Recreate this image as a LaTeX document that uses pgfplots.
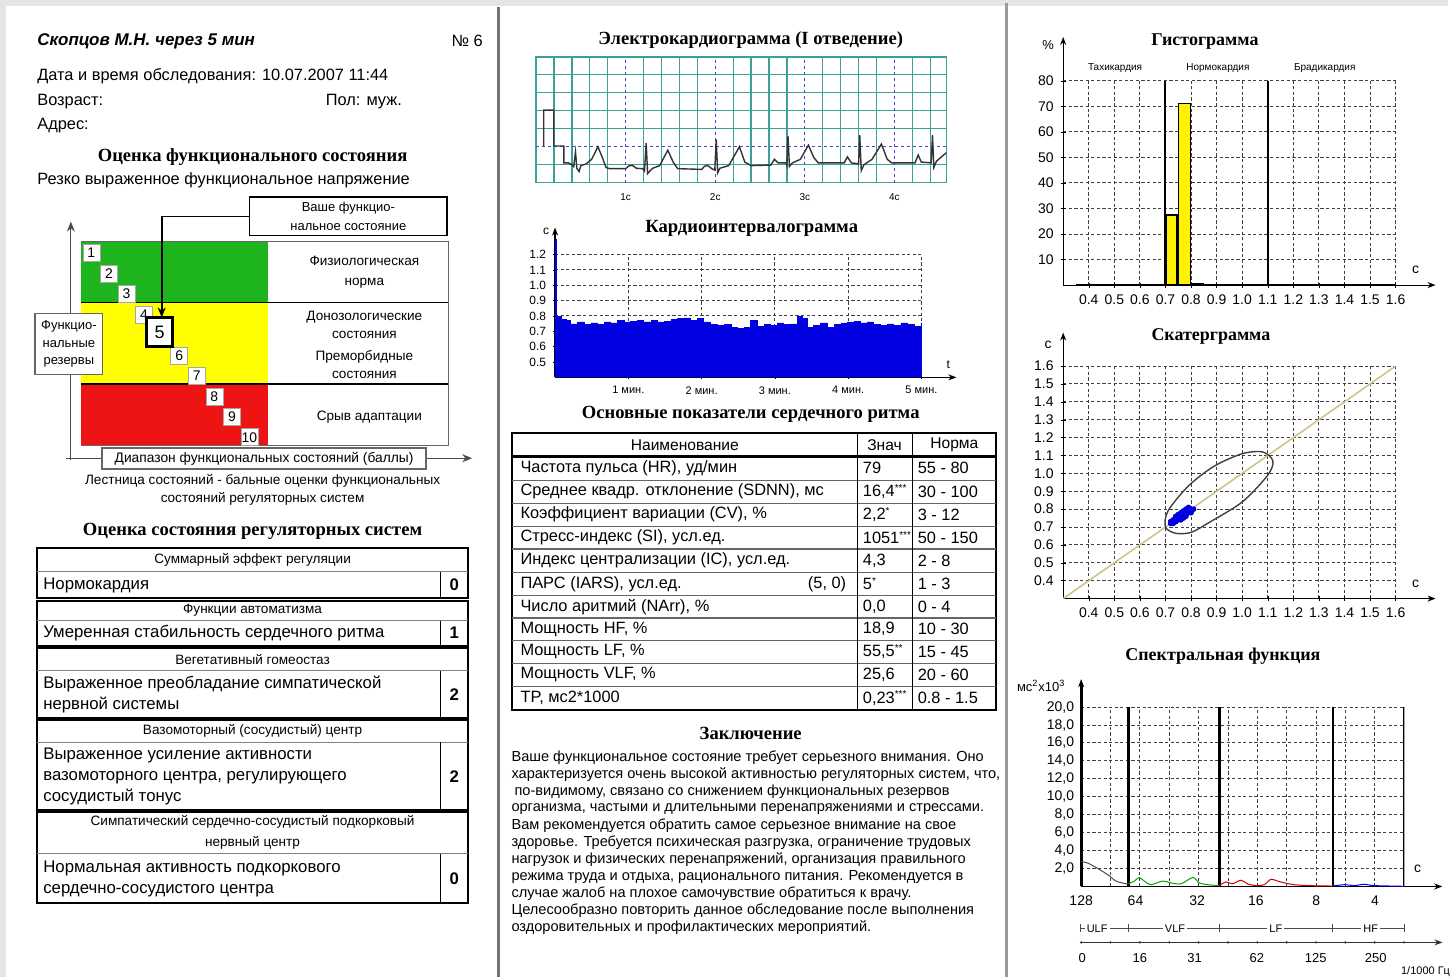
\documentclass[border=0pt]{standalone}
\usepackage{fontspec}
\setmainfont{Liberation Sans}
\newfontfamily\hdfont{Liberation Serif}
\usepackage{pgfplots}
\pgfplotsset{compat=1.18}
\usetikzlibrary{arrows.meta}
\definecolor{ecggrid}{RGB}{60,160,150}
\definecolor{ecgdash}{RGB}{70,70,210}
\definecolor{lgreen}{RGB}{30,180,30}
\definecolor{lyellow}{RGB}{255,255,0}
\definecolor{lred}{RGB}{238,20,20}
\definecolor{khaki}{RGB}{210,195,140}
\definecolor{cblue}{RGB}{0,0,225}
\newcommand{\fs}[2]{\fontsize{#1}{#2}\selectfont}
\newcommand{\hd}{\hdfont\bfseries\fs{9.3}{11}}
\newcommand{\hdr}{\hdfont\bfseries\fs{9.0}{11}}
\newcommand{\st}[1]{\raisebox{2.6pt}{\fs{5}{5}#1}}
\newcommand{\trow}[4]{%
  \node[anchor=west,font=\fs{8.2}{9}] at (521,#1) {#2};
  \node[anchor=west,font=\fs{8.2}{9}] at (864,#1) {#3};
  \node[anchor=west,font=\fs{8.2}{9}] at (919,#1) {#4};}
\pgfplotsset{
  every axis/.append style={scale only axis, anchor=south west, /pgf/number format/assume math mode=true},
  dgrid/.style={grid=major, major grid style={black!75, dash pattern=on 1.6pt off 1.2pt, line width=0.5pt}},
  onedec/.style={/pgf/number format/fixed, /pgf/number format/fixed zerofill, /pgf/number format/precision=1},
  arrowaxes/.style 2 args={axis x line=bottom, axis y line=left,
     x axis line style={-{Stealth[length=4pt,width=3pt]}, shorten >=-#1, line width=0.6pt},
     y axis line style={-{Stealth[length=4pt,width=3pt]}, shorten >=-#2, line width=0.6pt}},
}
\begin{document}
\begin{tikzpicture}
\begin{scope}[x=0.5pt,y=-0.5pt]
\useasboundingbox (0,0) rectangle (1450,979);
\fill[white] (0,0) rectangle (1450,979);
\fill[black!10] (0,0) rectangle (1450,6);
\fill[black!10] (0,0) rectangle (6,979);
\fill[black!55] (498,7) rectangle (500.5,979);
\fill[black!40] (1007,3) rectangle (1009.5,979);
% ---- ladder ----
\fill[lgreen] (81,242) rectangle (268,303);
\fill[lyellow] (81,303) rectangle (268,385);
\fill[lred] (81,385) rectangle (268,446);
\draw[black!60, line width=0.5pt] (81,242) -- (449,242) -- (449,446) -- (81,446);
\draw[line width=0.9pt] (81,303) -- (449,303) (81,385) -- (449,385);
\draw[black!70, line width=0.6pt,-{Stealth[length=5pt,width=4pt]}] (71,461) -- (71,222);
\draw[black!70, line width=0.6pt,-{Stealth[length=5pt,width=4pt]}] (66,459) -- (473,459);
\foreach \i in {1,2,3,4,6,7,8,9,10} {
  \pgfmathsetmacro{\bx}{83+(\i-1)*17.6}
  \pgfmathsetmacro{\by}{245+(\i-1)*20.5}
  \draw[fill=white, draw=black!35, line width=0.3pt] (\bx,\by) rectangle ++(17,17);
  \node[font=\fs{7}{8}] at (\bx+8.5,\by+8.5) {\i};
}
\draw[fill=white, line width=1.3pt] (147,318) rectangle (173,347);
\node[font=\fs{9}{10}] at (160,332.5) {5};
\draw[line width=0.9pt, fill=white] (250,197) rectangle (448,236);
\draw[line width=0.8pt,-{Stealth[length=5pt,width=4pt]}] (250,217) -- (162,217) -- (162,318);
\draw[fill=white, draw=black!60, line width=0.6pt] (35,314) rectangle (103,375);
\draw[fill=white, draw=black!60, line width=0.8pt] (102,449) rectangle (427,470);
% ---- left table ----
\draw[line width=1pt] (37,549.3) rectangle (469,599.3);
\draw[black!50] (37,572.7) -- (469,572.7); \draw (441,572.7) -- (441,599.3);
\draw[line width=1pt] (37,601.7) rectangle (469,646.7);
\draw[black!50] (37,621.7) -- (469,621.7); \draw (441,621.7) -- (441,646.7);
\draw[line width=1pt] (37,649.3) rectangle (469,719.3);
\draw[black!50] (37,671.7) -- (469,671.7); \draw (441,671.7) -- (441,719.3);
\draw[line width=1pt] (37,721) rectangle (469,811.7);
\draw[black!50] (37,743.3) -- (469,743.3); \draw (441,743.3) -- (441,811.7);
\draw[line width=1pt] (37,813.3) rectangle (469,905);
\draw[black!50] (37,855) -- (469,855); \draw (441,855) -- (441,905);
% ---- main table ----
\draw[line width=1pt] (513,434) rectangle (998,711);
\draw[line width=1.6pt] (513,457) -- (998,457);
\foreach \y in {481,504,527,550,573.3,596.3,619,641.7,664.3,687.7}
  \draw[black!60, line width=0.6pt] (513,\y) -- (998,\y);
\draw[line width=0.6pt] (859,434) -- (859,711) (914,434) -- (914,711);
% ---- spectral bottom scales ----
\draw[black!70, line width=0.6pt] (1082,930) -- (1406.7,930);
\foreach \x in {1082,1130.7,1221.7,1335,1406.7} \draw[black!70, line width=0.6pt] (\x,926) -- (\x,934);
\draw[-{Stealth[length=4pt,width=3pt]}, black!80, line width=0.6pt] (1082,944) -- (1445,944);
\foreach \k in {0,...,11} \fill[black!80] ({1083+29.4*\k},944) circle (1.3);
\end{scope}

% ===== ECG =====
\begin{axis}[at={(268.5pt,-91.5pt)}, width=205.5pt, height=63pt,
  xmin=0, xmax=4.58, ymin=0, ymax=7,
  xtick={0.2,0.4,0.6,0.8,1.2,1.4,1.6,1.8,2.2,2.4,2.6,2.8,3.2,3.4,3.6,3.8,4.2,4.4},
  ytick={1,3,4,5,6}, xticklabels={}, yticklabels={},
  major tick length=0pt, grid=major, major grid style={ecggrid, line width=0.6pt},
  axis line style={ecggrid, line width=0.7pt},
  extra x ticks={1,2,3,4}, extra x tick labels={1с,2с,3с,4с},
  extra x tick style={grid=major, major grid style={ecgdash, dash pattern=on 1.5pt off 1.5pt, line width=0.6pt},
     tick label style={font=\fs{5}{6}, yshift=-2pt}},
  extra y ticks={2}, extra y tick labels={},
  extra y tick style={grid=major, major grid style={ecgdash, dash pattern=on 1.5pt off 1.5pt, line width=0.6pt}},
]
\addplot[black!80, line width=0.7pt] coordinates {
(0.086,2.04)(0.086,4.04)(0.197,4.04)(0.197,2.04)(0.31,2.04)(0.31,1.1)
(0.36,1.1)(0.40,1.0)(0.42,0.9)(0.44,1.72)(0.455,0.8)(0.48,0.62)(0.5,0.95)(0.56,1.05)(0.62,1.3)(0.69,2.0)(0.74,1.4)(0.78,0.85)(0.82,0.78)
(1.0,0.78)(1.04,0.95)(1.08,0.95)(1.12,0.8)(1.19,0.78)(1.21,0.65)(1.229,2.2)(1.245,0.5)(1.265,0.62)(1.3,0.8)(1.38,0.95)(1.47,1.81)(1.53,1.15)(1.58,0.78)
(1.85,0.74)(1.88,0.92)(1.92,0.95)(1.96,0.78)(1.995,0.7)(2.011,2.41)(2.027,0.55)(2.05,0.8)(2.15,0.95)(2.27,2.0)(2.33,1.15)(2.4,0.95)
(2.62,0.98)(2.66,1.3)(2.70,1.1)(2.79,1.1)(2.80,0.95)(2.812,2.6)(2.828,0.9)(2.86,1.1)(2.95,1.3)(3.04,2.09)(3.1,1.4)(3.15,1.1)
(3.44,1.1)(3.475,1.44)(3.52,1.1)(3.6,1.05)(3.613,2.65)(3.63,0.67)(3.66,1.0)(3.75,1.3)(3.855,2.15)(3.92,1.3)(3.97,1.1)
(4.23,1.1)(4.265,1.54)(4.30,1.15)(4.41,1.1)(4.425,2.65)(4.44,0.85)(4.47,1.2)(4.58,1.67)};
\end{axis}

% ===== Cardiointervalogram =====
\begin{axis}[at={(278pt,-189pt)}, width=183.5pt, height=61.5pt,
  xmin=0, xmax=5, ymin=0.4, ymax=1.2, clip=false,
  arrowaxes={17.5pt}{13.5pt},
  xtick={1,2,3,4,5}, xticklabels={1 мин.,2 мин.,3 мин.,4 мин.,5 мин.},
  ytick={0.5,0.6,0.7,0.8,0.9,1.0,1.1,1.2},
  yticklabel style={onedec, font=\fs{6}{7}},
  xticklabel style={font=\fs{5.5}{6}},
  dgrid, major tick length=2pt, tick style={black},
]
\addplot[const plot, fill=cblue, draw=cblue, line width=0.3pt] coordinates {
(0,0.4)(0,1.30)(0.012,0.80)(0.03,0.798)(0.08,0.777)(0.15,0.770)(0.21,0.748)(0.30,0.761)(0.40,0.744)(0.49,0.755)
(0.58,0.744)(0.67,0.761)(0.76,0.755)(0.85,0.770)(0.94,0.761)(1.03,0.766)(1.12,0.770)(1.21,0.761)(1.31,0.770)
(1.40,0.761)(1.49,0.766)(1.58,0.777)(1.67,0.783)(1.76,0.788)(1.85,0.770)(1.94,0.783)(2.03,0.761)(2.12,0.744)
(2.21,0.740)(2.31,0.744)(2.40,0.723)(2.49,0.718)(2.58,0.723)(2.67,0.770)(2.76,0.733)(2.85,0.744)(2.94,0.740)
(3.03,0.755)(3.12,0.744)(3.22,0.748)(3.31,0.798)(3.37,0.783)(3.44,0.723)(3.53,0.740)(3.62,0.755)(3.72,0.727)
(3.81,0.744)(3.90,0.755)(3.99,0.761)(4.08,0.766)(4.17,0.755)(4.26,0.761)(4.35,0.744)(4.44,0.740)(4.53,0.748)
(4.62,0.740)(4.72,0.755)(4.81,0.744)(4.90,0.733)(5.0,0.755)(5.0,0.4)};
\end{axis}

% ===== Histogram =====
\begin{axis}[at={(532.5pt,-142.8pt)}, width=166.5pt, height=102.3pt,
  xmin=0.3, xmax=1.6, ymin=0, ymax=80,
  arrowaxes={20pt}{22pt},
  xtick={0.4,0.5,0.6,0.7,0.8,0.9,1.0,1.1,1.2,1.3,1.4,1.5,1.6},
  ytick={10,20,30,40,50,60,70,80},
  xticklabel style={onedec, font=\fs{7}{8}},
  yticklabel style={font=\fs{7}{8}},
  dgrid, major tick length=2.5pt, tick style={black},
]
\addplot[black, line width=1pt] coordinates {(0.7,0)(0.7,80)};
\addplot[black, line width=1pt] coordinates {(1.1,0)(1.1,80)};
\addplot[fill=yellow, draw=black, line width=0.6pt] coordinates {(0.702,0)(0.702,27.5)(0.745,27.5)(0.745,0)} \closedcycle;
\addplot[fill=yellow, draw=black, line width=0.6pt] coordinates {(0.752,0)(0.752,71)(0.798,71)(0.798,0)} \closedcycle;
\addplot[fill=black, draw=black] coordinates {(0.8,0)(0.8,0.8)(0.85,0.8)(0.85,0)} \closedcycle;
\addplot[black, line width=1.2pt] coordinates {(0.35,0)(1.6,0)};
\end{axis}

% ===== Scattergram =====
\begin{axis}[at={(532.5pt,-299.8pt)}, width=166.5pt, height=116.45pt,
  xmin=0.3, xmax=1.6, ymin=0.3, ymax=1.6,
  arrowaxes={20pt}{16.8pt},
  xtick={0.4,0.5,0.6,0.7,0.8,0.9,1.0,1.1,1.2,1.3,1.4,1.5,1.6},
  ytick={0.4,0.5,0.6,0.7,0.8,0.9,1.0,1.1,1.2,1.3,1.4,1.5,1.6},
  xticklabel style={onedec, font=\fs{7}{8}},
  yticklabel style={onedec, font=\fs{7}{8}},
  dgrid, major tick length=2.5pt, tick style={black},
]
\addplot[khaki, line width=0.8pt] coordinates {(0.3,0.3)(1.6,1.6)};
\addplot[black!75, line width=0.7pt, smooth cycle] coordinates {
(0.70,0.70)(0.74,0.665)(0.80,0.67)(0.87,0.725)(1.0,0.84)(1.10,0.99)(1.12,1.07)(1.08,1.12)(1.0,1.11)(0.89,1.04)(0.79,0.93)(0.71,0.79)};
\addplot[only marks, mark=*, mark size=1.2pt, cblue] coordinates {
(0.72,0.73)(0.73,0.72)(0.73,0.74)(0.74,0.73)(0.74,0.75)(0.75,0.74)(0.75,0.76)(0.76,0.75)(0.76,0.77)(0.77,0.76)
(0.77,0.78)(0.78,0.77)(0.78,0.79)(0.79,0.78)(0.79,0.80)(0.80,0.79)(0.75,0.75)(0.76,0.76)(0.77,0.77)(0.78,0.78)
(0.74,0.74)(0.73,0.73)(0.79,0.79)(0.80,0.80)(0.76,0.74)(0.74,0.76)(0.78,0.76)(0.76,0.78)(0.77,0.75)(0.75,0.77)
(0.72,0.72)(0.79,0.81)(0.81,0.80)(0.78,0.80)(0.80,0.78)(0.77,0.79)};
\end{axis}

% ===== Spectral =====
\begin{axis}[at={(541.5pt,-444pt)}, width=161.85pt, height=89.85pt,
  xmin=0, xmax=11, ymin=0, ymax=20,
  axis x line=bottom, axis y line=left,
  x axis line style={-{Stealth[length=4pt,width=3pt]}, shorten >=-19pt, line width=0.8pt},
  y axis line style={-{Stealth[length=4pt,width=3pt]}, shorten >=-14pt, line width=1.4pt},
  xtick={1,2,3,4,5,6,7,8,9,10}, xticklabels={},
  ytick={2,4,6,8,10,12,14,16,18,20},
  yticklabel style={onedec, /pgf/number format/use comma, font=\fs{7}{8}},
  dgrid, major tick length=0pt,
  extra x ticks={0,1.85,3.95,5.95,8.0,10.0}, extra x tick labels={128,64,32,16,8,4},
  extra x tick style={grid=none, xticklabel style={font=\fs{7}{8}, yshift=-1pt}},
]
\addplot[black, line width=1.4pt] coordinates {(1.62,0)(1.62,20)};
\addplot[black, line width=1.4pt] coordinates {(4.72,0)(4.72,20)};
\addplot[black, line width=1.4pt] coordinates {(8.57,0)(8.57,20)};
\addplot[black, line width=1.4pt] coordinates {(11,0)(11,20)};
\addplot[black!70, line width=0.5pt, smooth] coordinates {(0,2.8)(0.23,2.6)(0.57,2.0)(0.91,1.3)(1.19,0.6)(1.53,0.3)(1.61,0.3)};
\addplot[green!65!black, line width=0.5pt, smooth] coordinates {(1.61,0.3)(1.81,0.6)(1.98,1.0)(2.15,0.6)(2.37,0.2)(2.77,0.6)(3.06,0.4)(3.4,0.3)(3.8,1.0)(4.02,0.4)(4.3,0.2)(4.7,0.1)};
\addplot[red!80!black, line width=0.5pt, smooth] coordinates {(4.7,0.1)(4.93,0.5)(5.15,0.3)(5.44,0.7)(5.66,0.3)(5.94,0.1)(6.23,0.2)(6.46,0.8)(6.69,0.6)(6.92,0.4)(7.26,0.2)(7.71,0.1)(8.56,0.05)};
\addplot[blue, line width=0.5pt, smooth] coordinates {(8.56,0.05)(8.96,0.2)(9.3,0.1)(9.64,0.25)(9.98,0.1)(11,0.02)};
\end{axis}

\begin{scope}[x=0.5pt,y=-0.5pt, every node/.append style={inner sep=0pt}]
% ---- left column texts ----
\node[anchor=west,font=\bfseries\itshape\fs{8.5}{10}] at (37,41) {Скопцов М.Н. через 5 мин};
\node[anchor=east,font=\fs{8.2}{10}] at (484,41) {№ 6};
\node[anchor=west,font=\fs{8.2}{10}] at (37,76) {Дата и время обследования: 10.07.2007 11:44};
\node[anchor=west,font=\fs{8.2}{10}] at (37,102) {Возраст:};
\node[anchor=west,font=\fs{8.2}{10}] at (326,102) {Пол: муж.};
\node[anchor=west,font=\fs{8.2}{10}] at (37,126) {Адрес:};
\node[font=\hd] at (253,157) {Оценка функционального состояния};
\node[anchor=west,font=\fs{8.2}{10}] at (37,181) {Резко выраженное функциональное напряжение};
\node[font=\fs{6.5}{9.5}, align=center] at (349,216.5) {Ваше функцио-\\нальное состояние};
\node[font=\fs{6.8}{10}, align=center] at (365,273) {Физиологическая\\норма};
\node[font=\fs{6.8}{9}, align=center] at (365,325) {Донозологические\\состояния};
\node[font=\fs{6.8}{9}, align=center] at (365,365.5) {Преморбидные\\состояния};
\node[font=\fs{6.8}{9}] at (370,418) {Срыв адаптации};
\node[font=\fs{6.5}{8.8}, align=center] at (69,344.5) {Функцио-\\нальные\\резервы};
\node[font=\fs{6.9}{8}] at (264.5,460) {Диапазон функциональных состояний (баллы)};
\node[font=\fs{6.8}{9}, align=center] at (263,491) {Лестница состояний - бальные оценки функциональных\\состояний регуляторных систем};
\node[font=\hd] at (253,532) {Оценка состояния регуляторных систем};
% left table contents
\node[font=\fs{6.8}{8}] at (253,561) {Суммарный эффект регуляции};
\node[anchor=west,font=\fs{8.4}{10.5}] at (43,586) {Нормокардия};
\node[font=\bfseries\fs{8.4}{10}] at (455,586) {0};
\node[font=\fs{6.8}{8}] at (253,611.7) {Функции автоматизма};
\node[anchor=west,font=\fs{8.4}{10.5}] at (43,634.2) {Умеренная стабильность сердечного ритма};
\node[font=\bfseries\fs{8.4}{10}] at (455,634.2) {1};
\node[font=\fs{6.8}{8}] at (253,660.5) {Вегетативный гомеостаз};
\node[anchor=west,font=\fs{8.4}{10.5},align=left] at (43,695.5) {Выраженное преобладание симпатической\\нервной системы};
\node[font=\bfseries\fs{8.4}{10}] at (455,695.5) {2};
\node[font=\fs{6.8}{8}] at (253,732.2) {Вазомоторный (сосудистый) центр};
\node[anchor=west,font=\fs{8.4}{10.5},align=left] at (43,777.5) {Выраженное усиление активности\\вазомоторного центра, регулирующего\\сосудистый тонус};
\node[font=\bfseries\fs{8.4}{10}] at (455,777.5) {2};
\node[font=\fs{6.8}{10.5},align=center] at (253,834) {Симпатический сердечно-сосудистый подкорковый\\нервный центр};
\node[anchor=west,font=\fs{8.4}{10.5},align=left] at (43,880) {Нормальная активность подкоркового\\сердечно-сосудистого центра};
\node[font=\bfseries\fs{8.4}{10}] at (455,880) {0};
% ---- middle column ----
\node[font=\hd] at (752,40) {Электрокардиограмма (I отведение)};
\node[font=\hd] at (753,229) {Кардиоинтервалограмма};
\node[font=\fs{6}{7}] at (547,232) {с};
\node[font=\fs{6}{7}] at (950,365) {t};
\node[font=\hd] at (752,415) {Основные показатели сердечного ритма};
\node[font=\fs{7.8}{9}] at (686,445.5) {Наименование};
\node[font=\fs{7.8}{9}] at (886,445.5) {Знач};
\node[font=\fs{7.8}{9}] at (956,445.5) {Норма};
\trow{469}{Частота пульса (HR), уд/мин}{79}{55 - 80}
\trow{492.5}{Среднее квадр. отклонение (SDNN), мс}{16,4\st{***}}{30 - 100}
\trow{515.5}{Коэффициент вариации (CV), \%}{2,2\st{*}}{3 - 12}
\trow{538.5}{Стресс-индекс (SI), усл.ед.}{1051\st{***}}{50 - 150}
\trow{561.7}{Индекс централизации (IC), усл.ед.}{4,3}{2 - 8}
\trow{584.8}{ПАРС (IARS), усл.ед.}{5\st{*}}{1 - 3}
\node[anchor=east,font=\fs{8.2}{9}] at (848,584.8) {(5, 0)};
\trow{607.7}{Число аритмий (NArr), \%}{0,0}{0 - 4}
\trow{630.3}{Мощность HF, \%}{18,9}{10 - 30}
\trow{653}{Мощность LF, \%}{55,5\st{**}}{15 - 45}
\trow{676}{Мощность VLF, \%}{25,6}{20 - 60}
\trow{699.3}{TP, мс2*1000}{0,23\st{***}}{0.8 - 1.5}
\node[font=\hd] at (752,735) {Заключение};
\node[anchor=west,font=\fs{7.3}{8}] at (512,759) {Ваше функциональное состояние требует серьезного внимания. Оно};
\node[anchor=west,font=\fs{7.3}{8}] at (512,776) {характеризуется очень высокой активностью регуляторных систем, что,};
\node[anchor=west,font=\fs{7.3}{8}] at (515,793) {по-видимому, связано со снижением функциональных резервов};
\node[anchor=west,font=\fs{7.3}{8}] at (512,810) {организма, частыми и длительными перенапряжениями и стрессами.};
\node[anchor=west,font=\fs{7.3}{8}] at (512,827) {Вам рекомендуется обратить самое серьезное внимание на свое};
\node[anchor=west,font=\fs{7.3}{8}] at (512,844) {здоровье. Требуется психическая разгрузка, ограничение трудовых};
\node[anchor=west,font=\fs{7.3}{8}] at (512,861) {нагрузок и физических перенапряжений, организация правильного};
\node[anchor=west,font=\fs{7.3}{8}] at (512,878) {режима труда и отдыха, рационального питания. Рекомендуется в};
\node[anchor=west,font=\fs{7.3}{8}] at (512,895) {случае жалоб на плохое самочувствие обратиться к врачу.};
\node[anchor=west,font=\fs{7.3}{8}] at (512,912) {Целесообразно повторить данное обследование после выполнения};
\node[anchor=west,font=\fs{7.3}{8}] at (512,929) {оздоровительных и профилактических мероприятий.};
% ---- right column ----
\node[font=\hdr] at (1207,42) {Гистограмма};
\node[font=\fs{6.5}{7}] at (1050,45) {\%};
\node[font=\fs{5}{6}] at (1117,68) {Тахикардия};
\node[font=\fs{5}{6}] at (1220,68) {Нормокардия};
\node[font=\fs{5}{6}] at (1327,68) {Брадикардия};
\node[font=\fs{7}{8}] at (1418,270) {с};
\node[font=\hdr] at (1213,337) {Скатерграмма};
\node[font=\fs{7}{8}] at (1050,345) {с};
\node[font=\fs{7}{8}] at (1418,585) {с};
\node[font=\hdr] at (1225,657) {Спектральная функция};
\node[font=\fs{6.5}{7}] at (1043,687) {мс\textsuperscript{2}х10\textsuperscript{3}};
\node[font=\fs{7}{8}] at (1420,870) {с};
\foreach \x/\t in {1099/ULF,1177/VLF,1278/LF,1373/HF}
  \node[font=\fs{5.5}{6}, fill=white, inner sep=1pt] at (\x,930) {\t};
\foreach \x/\t in {1084/0,1141.7/16,1196.7/31,1259/62,1318/125,1378/250}
  \node[font=\fs{6.5}{7}] at (\x,960) {\t};
\node[font=\fs{5.5}{6}] at (1428,973) {1/1000 Гц};
\end{scope}
\end{tikzpicture}
\end{document}
